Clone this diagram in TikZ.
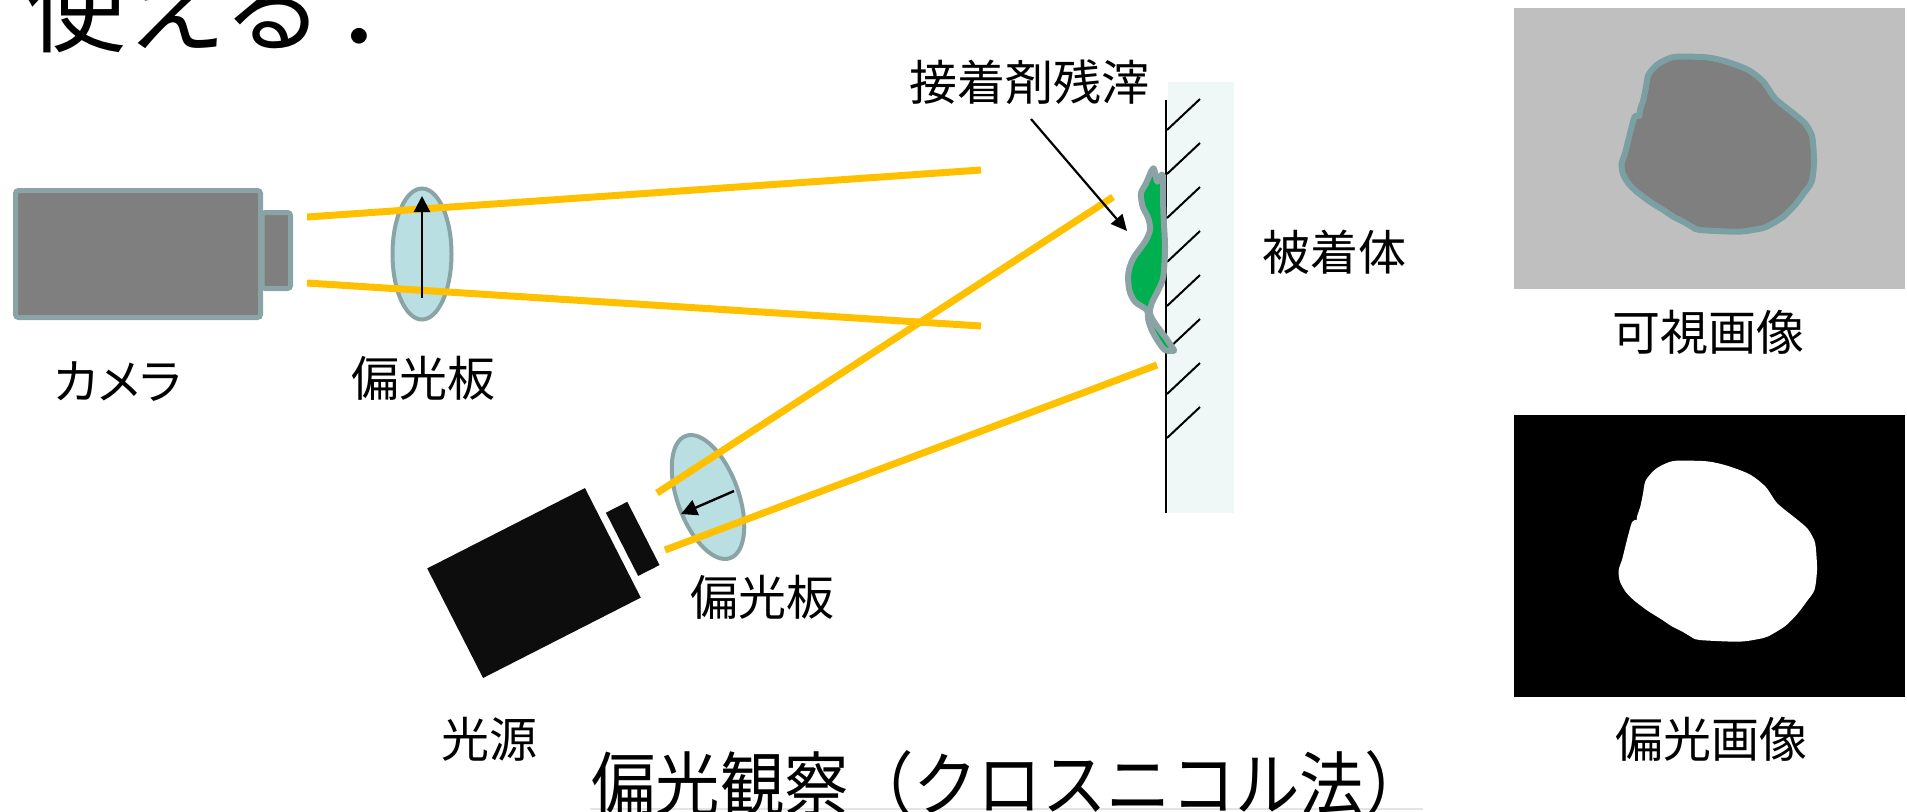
\documentclass[tikz,border=0pt]{standalone}
\usepackage{fontspec}
\usepackage{graphicx}
\newfontfamily\jpfont{Noto Sans CJK JP}
\newfontfamily\jppropfont[RawFeature=+palt]{Noto Sans CJK JP}
\usetikzlibrary{arrows.meta}

\definecolor{beamyellow}{HTML}{FFC000}
\definecolor{camgrey}{HTML}{7F7F7F}
\definecolor{camedge}{HTML}{8AA4A6}
\definecolor{filterblue}{HTML}{B9DFE3}
\definecolor{srcblack}{HTML}{0D0D0D}
\definecolor{wallpale}{HTML}{F0F8F7}
\definecolor{residue}{HTML}{00B050}
\definecolor{residueedge}{HTML}{8BA3A5}
\definecolor{panelgrey}{HTML}{BFBFBF}
\definecolor{stainedge}{HTML}{7BA0A3}
\definecolor{rulegrey}{HTML}{E4E4E4}

\tikzset{
  stain/.pic={
    \path[pic actions] plot[smooth cycle,tension=0.45] coordinates {
      (1676.7,56.7) (1706.7,57.3) (1726.7,61.7) (1748.3,70) (1763.3,81.7)
      (1775,98.3) (1793.3,113.3) (1805,123.3) (1811.7,135) (1813.3,146.7)
      (1814,163.3) (1811.7,181.7) (1805,191.7) (1795,205) (1783.3,216.7)
      (1766.7,226.7) (1756.7,229.3) (1738.3,231.7) (1700,230) (1691.7,226.7)
      (1683.3,221.7) (1673.3,216.7) (1663.3,210) (1650,201.7) (1636.7,191.7)
      (1628.3,183.3) (1622.7,173.3) (1621.7,163.3) (1625,153.3) (1628.3,140)
      (1631.7,126.7) (1635,116) (1639.3,116) (1640,110) (1643.3,100)
      (1646,86.7) (1648.3,75) (1656.7,65) (1666.7,59.3)};
  }
}

\begin{document}
\begin{tikzpicture}[x=0.5pt,y=-0.5pt,
  lightbeam/.style={draw=beamyellow,line width=3.5pt},
  campart/.style={draw=camedge,fill=camgrey,line width=2.5pt,rounded corners=1.5pt},
  polfilter/.style={draw=camedge,fill=filterblue,line width=2pt},
  lbl/.style={font=\jpfont\fontsize{24pt}{28pt}\selectfont,anchor=base,inner sep=0pt},
  axisarrow/.style={-{Triangle[length=8pt,width=8pt]},line width=1.2pt},
]
\useasboundingbox (0,0) rectangle (1907,811);

% heading fragment at the top edge
\node[anchor=base west,inner sep=0pt,font=\jpfont\fontsize{50pt}{60pt}\selectfont]
  (head) at (26,44) {使える\hspace{0.12em}．};

% camera with its lens
\draw[campart] (15.5,190.5) rectangle (260.5,317.5);
\draw[campart] (262,212.5) rectangle (290.5,288.5);

% polarizer in front of the camera
\draw[polfilter] (422,254) ellipse [x radius=29.5, y radius=65.5];

% light returning to the camera
\draw[lightbeam] (307,217) -- (981,170);
\draw[lightbeam] (307,283) -- (981,326);
\coordinate (camaxA) at (422,298);
\coordinate (camaxB) at (422,196);
\draw[axisarrow] (camaxA) -- (camaxB);

% light source
\begin{scope}[shift={(534,583)},rotate=27]
  \fill[srcblack] (-88.5,-61.5) rectangle (88.5,61.5);
  \fill[srcblack] (96,-30) rectangle (120,41);
\end{scope}

% polarizer in front of the light source
\draw[polfilter,rotate around={20:(708,497)}] (708,497) ellipse [x radius=30.5, y radius=65];

% illuminating light
\draw[lightbeam] (657,493) -- (1113,197);
\draw[lightbeam] (665,550) -- (1157,365);
\coordinate (srcaxA) at (734,491);
\coordinate (srcaxB) at (681,514);
\draw[axisarrow] (srcaxA) -- (srcaxB);

% adherend wall with hatching
\fill[wallpale] (1168,82) rectangle (1234,513);
\draw[line width=1.2pt] (1166,100) -- (1166,513);
\foreach \k in {0,...,7}
  \draw[line width=1pt] (1167,130+44*\k) -- (1200,99+44*\k);

% adhesive residue on the wall
\draw[draw=residueedge,fill=residue,line width=3pt,line join=round]
  plot[smooth cycle,tension=0.5] coordinates {
    (1153.3,168.3) (1157.3,181.7) (1162.7,175) (1163.3,210) (1165,246.7)
    (1163.3,276.7) (1158.3,290) (1151.7,303.3) (1150,313.3) (1155,323.3)
    (1165,336.7) (1171.7,346.7) (1174,350.7) (1165,350) (1158.3,341.7)
    (1151.7,330) (1148.3,320) (1146.7,310) (1135,301.7) (1129.3,290)
    (1128.3,273.3) (1133.3,258.3) (1145,241.7) (1150,230) (1148.3,218.3)
    (1142.7,206.7) (1141,193.3) (1146,183.3)};

% labels
\node[lbl] (residuelbl) at (1029,100) {接着剤残滓};
\coordinate (leaderstart) at (1031,119);
\coordinate (residuetip) at (1127,231);
\draw[-{Triangle[length=8pt,width=7.5pt]},line width=1.1pt] (leaderstart) -- (residuetip);

\node[lbl,font=\jppropfont\fontsize{24pt}{28pt}\selectfont] (camlbl) at (118,399) {カメラ};
\node[lbl] (campollbl) at (423,396) {偏光板};
\node[lbl] (walllbl) at (1334,270) {被着体};
\node[lbl] (srcpollbl) at (762,615) {偏光板};
\node[lbl] (srclbl) at (489,757) {光源};

% visible image
\fill[panelgrey] (1514,8) rectangle (1905,289);
\pic[draw=stainedge,fill=camgrey,line width=3pt,line join=round] at (0,0) {stain};
\node[lbl] (vislbl) at (1708,350) {可視画像};

% polarized image
\fill[black] (1514,415) rectangle (1905,697);
\pic[draw=white,fill=white,line width=3pt,line join=round] at (0,407) {stain};
\node[lbl] (pollbl) at (1711,757) {偏光画像};

% caption
\draw[rulegrey,line width=0.8pt] (590,809) -- (1423,809);
\node[anchor=base,inner sep=0pt,font=\jpfont\fontsize{35pt}{42pt}\selectfont]
  (caption) at (1010,810) {\scalebox{0.92}[1]{偏光観察（クロスニコル法）}};
\end{tikzpicture}
\end{document}
